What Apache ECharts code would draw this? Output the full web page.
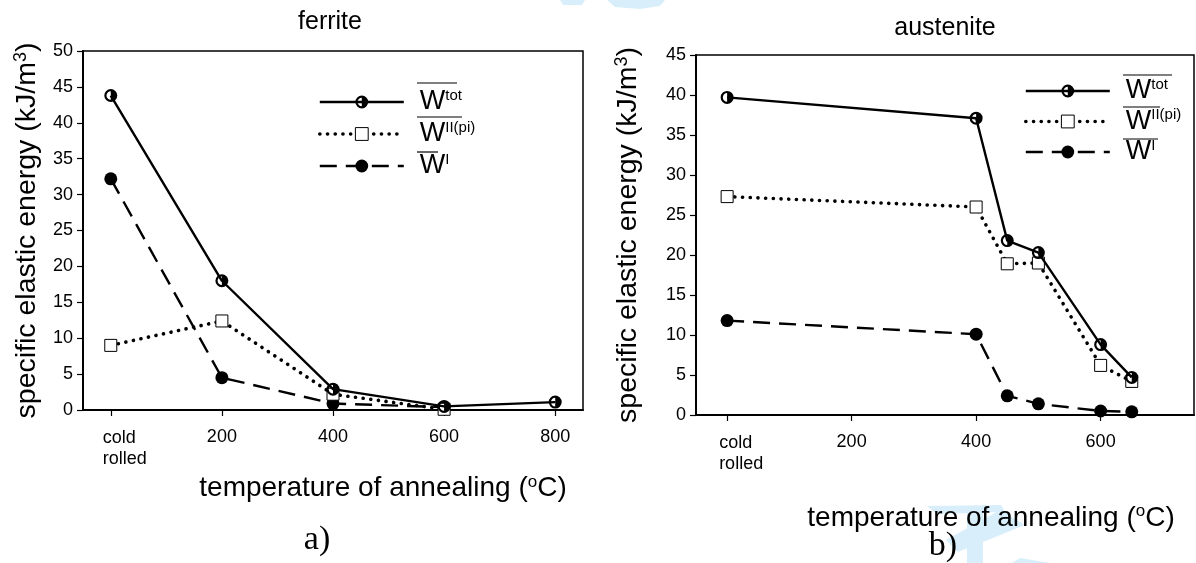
<!DOCTYPE html>
<html>
<head>
<meta charset="utf-8">
<script src="https://cdn.jsdelivr.net/npm/echarts@6/dist/echarts.min.js"></script>
<style>
  html, body { margin: 0; padding: 0; background: #fff; }
  #chart { width: 1196px; height: 563px; }
</style>
</head>
<body>
<div id="chart"></div>
<script>
// a) ferrite
const ferriteTemps = [0, 200, 400, 600, 800];
const ferriteWtot = [43.8, 18.0, 2.9, 0.5, 1.1];
const ferriteWII = [9.0, 12.4, 2.2, 0.1];
const ferriteWI = [32.2, 4.5, 0.9, 0.4];
const ferriteTicks = [0, 200, 400, 600, 800];
const ferriteTickLabels = ['cold\nrolled', '200', '400', '600', '800'];

// b) austenite
const austeniteTemps = [0, 400, 450, 500, 600, 650];
const austeniteWtot = [39.7, 37.1, 21.8, 20.3, 8.8, 4.7];
const austeniteWII = [27.3, 26.0, 18.9, 19.0, 6.2, 4.2];
const austeniteWI = [11.8, 10.1, 2.4, 1.4, 0.5, 0.4];
const austeniteTicks = [0, 200, 400, 600];
const austeniteTickLabels = ['cold\nrolled', '200', '400', '600'];

const legendSup = { tot: 'tot', ii: 'II(pi)', i: 'I' };

const FONT = '"Liberation Sans", Arial, sans-serif';
const SERIF = '"Liberation Serif", "Times New Roman", serif';
// circle with left half hollow, right half filled
const halfSym = 'path://M10,0A10,10,0,1,1,10,20A10,10,0,1,1,10,0ZM10,3.4A6.6,6.6,0,0,0,10,16.6L10,3.4Z';

const chart = echarts.init(document.getElementById('chart'));

const pairs = (xs, ys) => ys.map((y, k) => [xs[k], y]);

function seriesFor(prefix, idx, temps, tot, ii, i) {
  return [
    {
      name: prefix + 'tot', type: 'line', xAxisIndex: idx, yAxisIndex: idx,
      data: pairs(temps, tot), symbol: halfSym, symbolSize: 13,
      lineStyle: { color: '#000', width: 2.4 }, itemStyle: { color: '#000' }, z: 4,
    },
    {
      name: prefix + 'ii', type: 'line', xAxisIndex: idx, yAxisIndex: idx,
      data: pairs(temps, ii), symbol: 'rect', symbolSize: 12,
      lineStyle: { color: '#000', width: 3.6, type: [0.1, 7.6], cap: 'round' },
      itemStyle: { color: '#fff', borderColor: '#000', borderWidth: 1 }, z: 3,
    },
    {
      name: prefix + 'i', type: 'line', xAxisIndex: idx, yAxisIndex: idx,
      data: pairs(temps, i), symbol: 'circle', symbolSize: 13,
      lineStyle: { color: '#000', width: 2.4, type: [17, 9] }, itemStyle: { color: '#000' }, z: 2,
    },
  ];
}

function legendFor(prefix, left, top, gap) {
  return {
    orient: 'vertical', left, top, padding: 0, itemWidth: 84, itemHeight: 16, itemGap: gap,
    selectedMode: false,
    data: [
      { name: prefix + 'tot', lineStyle: { width: 2.4 } },
      { name: prefix + 'ii', lineStyle: { width: 3.6 }, itemStyle: { borderWidth: 1 } },
      { name: prefix + 'i', lineStyle: { width: 2.4 } },
    ],
    formatter: (name) => '{w|W}{s|' + legendSup[name.split('_')[1]] + '}',
    textStyle: {
      color: '#000',
      rich: {
        w: { fontFamily: FONT, fontSize: 27, lineHeight: 28, padding: [0, 0, 0, 11], color: '#000' },
        s: { fontFamily: FONT, fontSize: 15, lineHeight: 16, verticalAlign: 'top', color: '#000' },
      },
    },
  };
}

function xAxisFor(idx, min, max, ticks, labels, namePad, nameGap) {
  return {
    type: 'value', gridIndex: idx, min, max,
    splitLine: { show: false },
    axisLine: { onZero: false, lineStyle: { color: '#000', width: 2 } },
    axisTick: { show: true, inside: false, length: 6, customValues: ticks, lineStyle: { color: '#000', width: 1.2 } },
    axisLabel: {
      customValues: ticks, margin: 18, color: '#000', fontFamily: FONT, fontSize: 18,
      formatter: (v) => {
        const s = labels[ticks.indexOf(v)];
        return s.indexOf('\n') >= 0 ? s.split('\n').map((t) => '{c|' + t + '}').join('\n') : s;
      },
      rich: { c: { fontFamily: FONT, fontSize: 18, lineHeight: 21, width: 48, align: 'left', padding: [0, 0, 0, 32], color: '#000' } },
    },
    name: 'temperature of annealing ({sup|o}C)',
    nameLocation: 'middle', nameGap,
    nameTextStyle: {
      color: '#000', fontFamily: FONT, fontSize: 28, lineHeight: 30, padding: [0, 0, 0, namePad],
      rich: { sup: { fontFamily: FONT, fontSize: 17, lineHeight: 18, verticalAlign: 'top', color: '#000' } },
    },
  };
}

function yAxisFor(idx, max, nameGap) {
  return {
    type: 'value', gridIndex: idx, min: 0, max, interval: 5,
    splitLine: { show: false },
    axisLine: { show: true, onZero: false, lineStyle: { color: '#000', width: 2 } },
    axisTick: { show: true, inside: false, length: 6, lineStyle: { color: '#000', width: 1.2 } },
    axisLabel: { margin: 10, color: '#000', fontFamily: FONT, fontSize: 18 },
    name: 'specific elastic energy (kJ/m{sup|3})',
    nameLocation: 'middle', nameGap, nameRotate: 90,
    nameTextStyle: {
      color: '#000', fontFamily: FONT, fontSize: 28.5, lineHeight: 30,
      rich: { sup: { fontFamily: FONT, fontSize: 18, lineHeight: 18, verticalAlign: 'top', color: '#000' } },
    },
  };
}

function textEl(text, x, y, size, family) {
  return {
    type: 'text', x, y, silent: true,
    style: { text, fontFamily: family, fontSize: size, fill: '#000', align: 'center', verticalAlign: 'middle' },
  };
}

function lineEl(x1, x2, y) {
  return { type: 'line', silent: true, shape: { x1, y1: y, x2, y2: y }, style: { stroke: '#000', lineWidth: 1.2 } };
}

function polyEl(points) {
  return { type: 'polygon', silent: true, z: -10, shape: { points }, style: { fill: '#d8effb' } };
}

const option = {
  animation: false,
  backgroundColor: '#fff',
  grid: [
    { left: 83, top: 51, width: 500, height: 359, show: true, borderColor: '#000', borderWidth: 1.5, backgroundColor: 'transparent' },
    { left: 696, top: 55, width: 498, height: 360, show: true, borderColor: '#000', borderWidth: 1.5, backgroundColor: 'transparent' },
  ],
  xAxis: [
    xAxisFor(0, -50, 850, ferriteTicks, ferriteTickLabels, 100, 52),
    xAxisFor(1, -50, 750, austeniteTicks, austeniteTickLabels, 92, 88),
  ],
  yAxis: [yAxisFor(0, 50, 41), yAxisFor(1, 45, 53)],
  legend: [legendFor('a_', 318, 88, 4.5), legendFor('b_', 1024, 77, 3)],
  series: [
    ...seriesFor('a_', 0, ferriteTemps, ferriteWtot, ferriteWII, ferriteWI),
    ...seriesFor('b_', 1, austeniteTemps, austeniteWtot, austeniteWII, austeniteWI),
  ],
  graphic: [
    // faint watermark pieces
    polyEl([[560, 0], [585, 0], [582, 5], [563, 5]]),
    polyEl([[607, 0], [665, 0], [660, 6], [640, 9], [615, 7]]),
    polyEl([[927, 506], [1001, 505], [1005, 512], [937, 514]]),
    polyEl([[1000, 510], [1025, 525], [958, 552], [946, 540]]),
    polyEl([[967, 508], [983, 508], [983, 563], [967, 563]]),
    polyEl([[1020, 558], [1050, 563], [1012, 563]]),
    textEl('ferrite', 330, 22, 25, FONT),
    textEl('austenite', 945, 28, 25, FONT),
    textEl('a)', 317, 540, 34, SERIF),
    textEl('b)', 943, 546, 34, SERIF),
    // overlines on legend symbols
    lineEl(417, 457, 83), lineEl(417, 462, 117), lineEl(417, 438, 152),
    lineEl(1123, 1172, 75), lineEl(1123, 1160, 107), lineEl(1123, 1158, 139),
  ],
};

chart.setOption(option);
</script>
</body>
</html>
